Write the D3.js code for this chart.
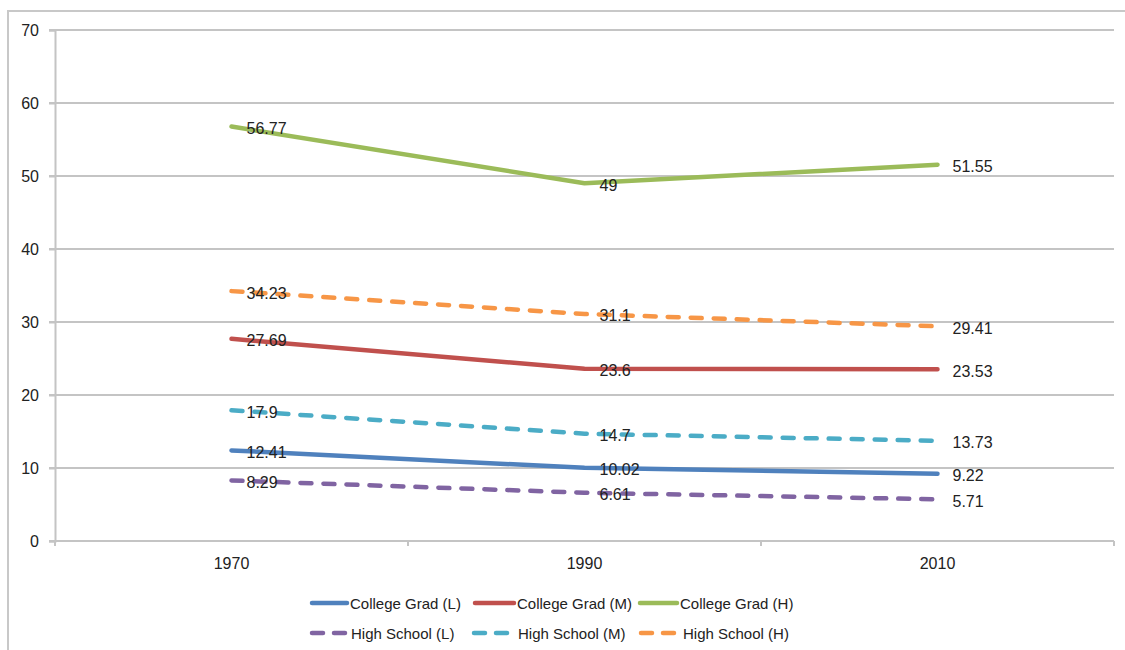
<!DOCTYPE html>
<html>
<head>
<meta charset="utf-8">
<script src="https://cdn.jsdelivr.net/npm/d3@7"></script>
<style>
  html, body { margin: 0; padding: 0; background: #fff; }
  svg { display: block; font-family: "Liberation Sans", Arial, sans-serif; }
</style>
</head>
<body>
<svg id="chart" width="1125" height="650"></svg>
<script>
// ---- Data ----
const years = ["1970", "1990", "2010"];
const yTicks = [0, 10, 20, 30, 40, 50, 60, 70];
const seriesNames = ["College Grad (L)", "College Grad (M)", "College Grad (H)",
                     "High School (L)", "High School (M)", "High School (H)"];
const collegeL = [12.41, 10.02, 9.22];
const collegeM = [27.69, 23.6, 23.53];
const collegeH = [56.77, 49, 51.55];
const highL = [8.29, 6.61, 5.71];
const highM = [17.9, 14.7, 13.73];
const highH = [34.23, 31.1, 29.41];

// ---- Styles ----
const colors = ["#4F81BD", "#C0504D", "#9BBB59", "#8064A2", "#4BACC6", "#F79646"];
const dashed = [false, false, false, true, true, true];
const seriesValues = [collegeL, collegeM, collegeH, highL, highM, highH];

const svg = d3.select("#chart");
const mLeft = 55, mRight = 1114, mTop = 30, mBottom = 541;

// outer frame
svg.append("rect").attr("x", 8).attr("y", 11).attr("width", 1130).attr("height", 650)
  .attr("fill", "none").attr("stroke", "#c8c8c8").attr("stroke-width", 2);

const x = d3.scaleBand().domain(years).range([mLeft, mRight]).padding(0);
const y = d3.scaleLinear().domain([0, 70]).range([mBottom, mTop]);
const xc = d => x(d) + x.bandwidth() / 2;

// gridlines
svg.append("g").selectAll("line").data(yTicks.filter(t => t > 0)).join("line")
  .attr("x1", mLeft - 6).attr("x2", mRight)
  .attr("y1", d => y(d)).attr("y2", d => y(d))
  .attr("stroke", "#c4c4c4").attr("stroke-width", 2);

// y axis
const yAxis = svg.append("g").attr("transform", `translate(${mLeft},0)`)
  .call(d3.axisLeft(y).tickValues(yTicks).tickSize(6).tickPadding(10));
yAxis.select(".domain").attr("stroke", "#c4c4c4").attr("stroke-width", 2);
yAxis.selectAll(".tick line").attr("stroke", "#c4c4c4").attr("stroke-width", 2);
yAxis.selectAll(".tick text").attr("font-size", 16).attr("fill", "#222")
  .attr("font-family", "Liberation Sans, Arial, sans-serif");

// x axis
const xAxis = svg.append("g").attr("transform", `translate(0,${mBottom})`)
  .call(d3.axisBottom(x).tickSize(0).tickPadding(17));
xAxis.select(".domain").remove();
xAxis.append("line").attr("x1", mLeft - 6).attr("x2", mRight).attr("y1", 0).attr("y2", 0)
  .attr("stroke", "#c4c4c4").attr("stroke-width", 2);
const boundaries = years.map(d => x(d)).concat([mRight]);
xAxis.selectAll("line.bt").data(boundaries).join("line").attr("class", "bt")
  .attr("x1", d => d).attr("x2", d => d).attr("y1", 0).attr("y2", 5)
  .attr("stroke", "#c4c4c4").attr("stroke-width", 2);
xAxis.selectAll(".tick text").attr("font-size", 16).attr("fill", "#222")
  .attr("font-family", "Liberation Sans, Arial, sans-serif");

// lines
const line = d3.line().x((d, i) => xc(years[i])).y(d => y(d));
const drawOrder = [0, 1, 2, 3, 4, 5];
drawOrder.forEach(s => {
  svg.append("path").datum(seriesValues[s])
    .attr("d", line)
    .attr("fill", "none")
    .attr("stroke", colors[s])
    .attr("stroke-width", 4.5)
    .attr("stroke-linecap", "round")
    .attr("stroke-linejoin", "round")
    .attr("stroke-dasharray", dashed[s] ? "11,12" : null);
});

// data labels
drawOrder.forEach(s => {
  svg.append("g").selectAll("text").data(seriesValues[s]).join("text")
    .attr("x", (d, i) => xc(years[i]) + 15)
    .attr("y", d => y(d) + 7.5)
    .attr("font-size", 16)
    .attr("fill", "#222")
    .text(d => String(d));
});

// legend
const legendPos = [
  {lx: 310, tx: 350, y: 603}, {lx: 473, tx: 517, y: 603}, {lx: 638, tx: 680, y: 603},
  {lx: 310, tx: 351, y: 633}, {lx: 472, tx: 518, y: 633}, {lx: 639, tx: 683, y: 633}
];
const lg = svg.append("g");
seriesNames.forEach((name, s) => {
  const p = legendPos[s];
  if (dashed[s]) {
    [0, 22].forEach(off => {
      lg.append("line").attr("x1", p.lx + 2 + off).attr("x2", p.lx + 13 + off)
        .attr("y1", p.y).attr("y2", p.y)
        .attr("stroke", colors[s]).attr("stroke-width", 4.5).attr("stroke-linecap", "round");
    });
  } else {
    lg.append("line").attr("x1", p.lx + 2).attr("x2", p.tx - 3)
      .attr("y1", p.y).attr("y2", p.y)
      .attr("stroke", colors[s]).attr("stroke-width", 4.5).attr("stroke-linecap", "round");
  }
  lg.append("text").attr("x", p.tx).attr("y", p.y + 5.5)
    .attr("font-size", 15).attr("fill", "#222").text(name);
});
</script>
</body>
</html>
